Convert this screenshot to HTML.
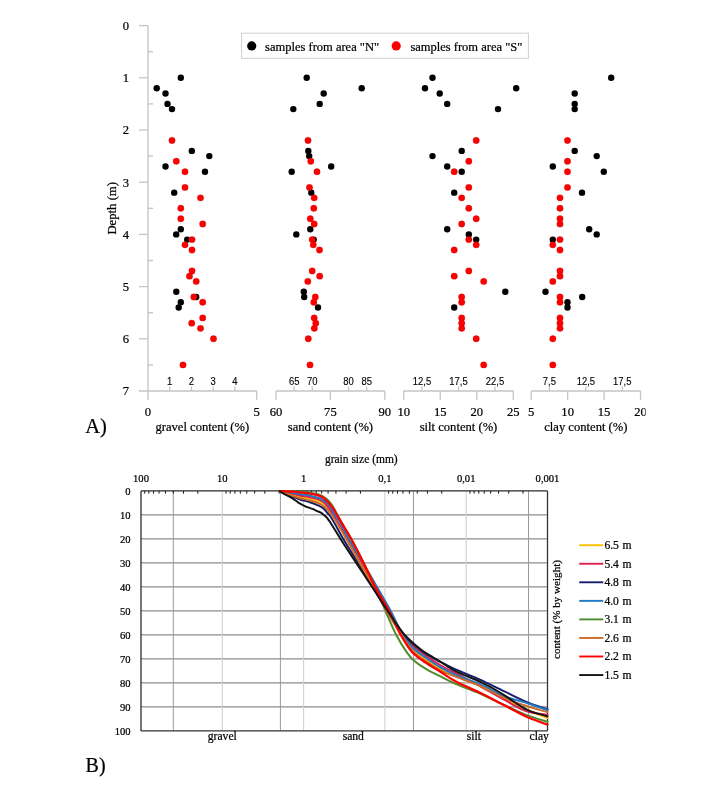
<!DOCTYPE html>
<html><head><meta charset="utf-8"><title>Figure</title>
<style>html,body{margin:0;padding:0;background:#fff;}svg{display:block;}.sf{font-family:"Liberation Serif","Times New Roman",serif;fill:#000;stroke:#000;stroke-width:0.22px;}.sa{font-family:"Liberation Sans",Arial,sans-serif;fill:#000;stroke:#000;stroke-width:0.12px;}</style></head>
<body><svg width="720" height="787" viewBox="0 0 720 787">
<rect width="720" height="787" fill="#fff"/>
<defs><clipPath id="clipA"><rect x="0" y="0" width="645.6" height="787"/></clipPath></defs>
<line x1="148" y1="25.60" x2="148" y2="400" stroke="#c4c4c4" stroke-width="1.3"/>
<line x1="139" y1="25.60" x2="148" y2="25.60" stroke="#c4c4c4" stroke-width="1.3"/>
<text x="126" y="29.90" class="sf" font-size="12.6" text-anchor="middle">0</text>
<line x1="139" y1="77.80" x2="148" y2="77.80" stroke="#c4c4c4" stroke-width="1.3"/>
<text x="126" y="82.10" class="sf" font-size="12.6" text-anchor="middle">1</text>
<line x1="139" y1="130.00" x2="148" y2="130.00" stroke="#c4c4c4" stroke-width="1.3"/>
<text x="126" y="134.30" class="sf" font-size="12.6" text-anchor="middle">2</text>
<line x1="139" y1="182.20" x2="148" y2="182.20" stroke="#c4c4c4" stroke-width="1.3"/>
<text x="126" y="186.50" class="sf" font-size="12.6" text-anchor="middle">3</text>
<line x1="139" y1="234.40" x2="148" y2="234.40" stroke="#c4c4c4" stroke-width="1.3"/>
<text x="126" y="238.70" class="sf" font-size="12.6" text-anchor="middle">4</text>
<line x1="139" y1="286.60" x2="148" y2="286.60" stroke="#c4c4c4" stroke-width="1.3"/>
<text x="126" y="290.90" class="sf" font-size="12.6" text-anchor="middle">5</text>
<line x1="139" y1="338.80" x2="148" y2="338.80" stroke="#c4c4c4" stroke-width="1.3"/>
<text x="126" y="343.10" class="sf" font-size="12.6" text-anchor="middle">6</text>
<text x="126" y="395.30" class="sf" font-size="12.6" text-anchor="middle">7</text>
<line x1="148" y1="51.70" x2="153" y2="51.70" stroke="#c4c4c4" stroke-width="1.3"/>
<line x1="148" y1="103.90" x2="153" y2="103.90" stroke="#c4c4c4" stroke-width="1.3"/>
<line x1="148" y1="156.10" x2="153" y2="156.10" stroke="#c4c4c4" stroke-width="1.3"/>
<line x1="148" y1="208.30" x2="153" y2="208.30" stroke="#c4c4c4" stroke-width="1.3"/>
<line x1="148" y1="260.50" x2="153" y2="260.50" stroke="#c4c4c4" stroke-width="1.3"/>
<line x1="148" y1="312.70" x2="153" y2="312.70" stroke="#c4c4c4" stroke-width="1.3"/>
<line x1="148" y1="364.90" x2="153" y2="364.90" stroke="#c4c4c4" stroke-width="1.3"/>
<text transform="translate(116,208.3) rotate(-90)" class="sf" font-size="12.7" text-anchor="middle">Depth (m)</text>
<line x1="139" y1="391.0" x2="256.7" y2="391.0" stroke="#c4c4c4" stroke-width="1.3"/>
<text x="148.00" y="416.2" class="sf" font-size="12.6" text-anchor="middle">0</text>
<line x1="256.70" y1="391.0" x2="256.70" y2="399.8" stroke="#c4c4c4" stroke-width="1.3"/>
<text x="256.70" y="416.2" class="sf" font-size="12.6" text-anchor="middle">5</text>
<line x1="169.74" y1="386.6" x2="169.74" y2="391.0" stroke="#c4c4c4" stroke-width="1.3"/>
<text transform="translate(169.74,384.6) scale(0.92,1)" class="sa" font-size="10.3" text-anchor="middle">1</text>
<line x1="191.48" y1="386.6" x2="191.48" y2="391.0" stroke="#c4c4c4" stroke-width="1.3"/>
<text transform="translate(191.48,384.6) scale(0.92,1)" class="sa" font-size="10.3" text-anchor="middle">2</text>
<line x1="213.22" y1="386.6" x2="213.22" y2="391.0" stroke="#c4c4c4" stroke-width="1.3"/>
<text transform="translate(213.22,384.6) scale(0.92,1)" class="sa" font-size="10.3" text-anchor="middle">3</text>
<line x1="234.96" y1="386.6" x2="234.96" y2="391.0" stroke="#c4c4c4" stroke-width="1.3"/>
<text transform="translate(234.96,384.6) scale(0.92,1)" class="sa" font-size="10.3" text-anchor="middle">4</text>
<text x="202.35" y="430.8" class="sf" font-size="12.6" text-anchor="middle">gravel content (%)</text>
<line x1="276.0" y1="391.0" x2="384.8" y2="391.0" stroke="#c4c4c4" stroke-width="1.3"/>
<line x1="276.00" y1="391.0" x2="276.00" y2="399.8" stroke="#c4c4c4" stroke-width="1.3"/>
<text x="276.00" y="416.2" class="sf" font-size="12.6" text-anchor="middle">60</text>
<line x1="330.40" y1="391.0" x2="330.40" y2="399.8" stroke="#c4c4c4" stroke-width="1.3"/>
<text x="330.40" y="416.2" class="sf" font-size="12.6" text-anchor="middle">75</text>
<line x1="384.80" y1="391.0" x2="384.80" y2="399.8" stroke="#c4c4c4" stroke-width="1.3"/>
<text x="384.80" y="416.2" class="sf" font-size="12.6" text-anchor="middle">90</text>
<line x1="294.13" y1="386.6" x2="294.13" y2="391.0" stroke="#c4c4c4" stroke-width="1.3"/>
<text transform="translate(294.13,384.6) scale(0.92,1)" class="sa" font-size="10.3" text-anchor="middle">65</text>
<line x1="312.27" y1="386.6" x2="312.27" y2="391.0" stroke="#c4c4c4" stroke-width="1.3"/>
<text transform="translate(312.27,384.6) scale(0.92,1)" class="sa" font-size="10.3" text-anchor="middle">70</text>
<line x1="348.53" y1="386.6" x2="348.53" y2="391.0" stroke="#c4c4c4" stroke-width="1.3"/>
<text transform="translate(348.53,384.6) scale(0.92,1)" class="sa" font-size="10.3" text-anchor="middle">80</text>
<line x1="366.67" y1="386.6" x2="366.67" y2="391.0" stroke="#c4c4c4" stroke-width="1.3"/>
<text transform="translate(366.67,384.6) scale(0.92,1)" class="sa" font-size="10.3" text-anchor="middle">85</text>
<text x="330.40" y="430.8" class="sf" font-size="12.6" text-anchor="middle">sand content (%)</text>
<line x1="403.7" y1="391.0" x2="513.3" y2="391.0" stroke="#c4c4c4" stroke-width="1.3"/>
<line x1="403.70" y1="391.0" x2="403.70" y2="399.8" stroke="#c4c4c4" stroke-width="1.3"/>
<text x="403.70" y="416.2" class="sf" font-size="12.6" text-anchor="middle">10</text>
<line x1="440.23" y1="391.0" x2="440.23" y2="399.8" stroke="#c4c4c4" stroke-width="1.3"/>
<text x="440.23" y="416.2" class="sf" font-size="12.6" text-anchor="middle">15</text>
<line x1="476.77" y1="391.0" x2="476.77" y2="399.8" stroke="#c4c4c4" stroke-width="1.3"/>
<text x="476.77" y="416.2" class="sf" font-size="12.6" text-anchor="middle">20</text>
<line x1="513.30" y1="391.0" x2="513.30" y2="399.8" stroke="#c4c4c4" stroke-width="1.3"/>
<text x="513.30" y="416.2" class="sf" font-size="12.6" text-anchor="middle">25</text>
<line x1="421.97" y1="386.6" x2="421.97" y2="391.0" stroke="#c4c4c4" stroke-width="1.3"/>
<text transform="translate(421.97,384.6) scale(0.92,1)" class="sa" font-size="10.3" text-anchor="middle">12,5</text>
<line x1="458.50" y1="386.6" x2="458.50" y2="391.0" stroke="#c4c4c4" stroke-width="1.3"/>
<text transform="translate(458.50,384.6) scale(0.92,1)" class="sa" font-size="10.3" text-anchor="middle">17,5</text>
<line x1="495.03" y1="386.6" x2="495.03" y2="391.0" stroke="#c4c4c4" stroke-width="1.3"/>
<text transform="translate(495.03,384.6) scale(0.92,1)" class="sa" font-size="10.3" text-anchor="middle">22,5</text>
<text x="458.50" y="430.8" class="sf" font-size="12.6" text-anchor="middle">silt content (%)</text>
<line x1="531.2" y1="391.0" x2="640.5" y2="391.0" stroke="#c4c4c4" stroke-width="1.3"/>
<line x1="531.20" y1="391.0" x2="531.20" y2="399.8" stroke="#c4c4c4" stroke-width="1.3"/>
<text x="531.20" y="416.2" class="sf" font-size="12.6" text-anchor="middle">5</text>
<line x1="567.63" y1="391.0" x2="567.63" y2="399.8" stroke="#c4c4c4" stroke-width="1.3"/>
<text x="567.63" y="416.2" class="sf" font-size="12.6" text-anchor="middle">10</text>
<line x1="604.07" y1="391.0" x2="604.07" y2="399.8" stroke="#c4c4c4" stroke-width="1.3"/>
<text x="604.07" y="416.2" class="sf" font-size="12.6" text-anchor="middle">15</text>
<line x1="640.50" y1="391.0" x2="640.50" y2="399.8" stroke="#c4c4c4" stroke-width="1.3"/>
<text x="640.50" y="416.2" class="sf" font-size="12.6" text-anchor="middle" clip-path="url(#clipA)">20</text>
<line x1="549.42" y1="386.6" x2="549.42" y2="391.0" stroke="#c4c4c4" stroke-width="1.3"/>
<text transform="translate(549.42,384.6) scale(0.92,1)" class="sa" font-size="10.3" text-anchor="middle">7,5</text>
<line x1="585.85" y1="386.6" x2="585.85" y2="391.0" stroke="#c4c4c4" stroke-width="1.3"/>
<text transform="translate(585.85,384.6) scale(0.92,1)" class="sa" font-size="10.3" text-anchor="middle">12,5</text>
<line x1="622.28" y1="386.6" x2="622.28" y2="391.0" stroke="#c4c4c4" stroke-width="1.3"/>
<text transform="translate(622.28,384.6) scale(0.92,1)" class="sa" font-size="10.3" text-anchor="middle">17,5</text>
<text x="585.85" y="430.8" class="sf" font-size="12.6" text-anchor="middle">clay content (%)</text>
<text x="85.3" y="433.2" class="sf" font-size="20.5" fill="#141428">A)</text>
<rect x="241.6" y="33.2" width="286.8" height="25.1" fill="#fff" stroke="#cfcfcf" stroke-width="1"/>
<circle cx="251.7" cy="45.9" r="4.6" fill="#000"/>
<text x="265.1" y="50.7" class="sf" font-size="12.5">samples from area "N"</text>
<circle cx="396.2" cy="45.9" r="4.6" fill="#f00"/>
<text x="410.4" y="50.7" class="sf" font-size="12.5">samples from area "S"</text>
<circle cx="180.8" cy="77.80" r="3.2" fill="#000"/>
<circle cx="156.7" cy="88.24" r="3.2" fill="#000"/>
<circle cx="165.5" cy="93.46" r="3.2" fill="#000"/>
<circle cx="167.5" cy="103.90" r="3.2" fill="#000"/>
<circle cx="172" cy="109.12" r="3.2" fill="#000"/>
<circle cx="191.8" cy="150.88" r="3.2" fill="#000"/>
<circle cx="209.3" cy="156.10" r="3.2" fill="#000"/>
<circle cx="165.5" cy="166.54" r="3.2" fill="#000"/>
<circle cx="205" cy="171.76" r="3.2" fill="#000"/>
<circle cx="174.2" cy="192.64" r="3.2" fill="#000"/>
<circle cx="180.8" cy="229.18" r="3.2" fill="#000"/>
<circle cx="176.2" cy="234.40" r="3.2" fill="#000"/>
<circle cx="187.2" cy="239.62" r="3.2" fill="#000"/>
<circle cx="176.3" cy="291.82" r="3.2" fill="#000"/>
<circle cx="196.2" cy="297.04" r="3.2" fill="#000"/>
<circle cx="180.8" cy="302.26" r="3.2" fill="#000"/>
<circle cx="178.7" cy="307.48" r="3.2" fill="#000"/>
<circle cx="306.7" cy="77.80" r="3.2" fill="#000"/>
<circle cx="361.7" cy="88.24" r="3.2" fill="#000"/>
<circle cx="323.7" cy="93.46" r="3.2" fill="#000"/>
<circle cx="319.7" cy="103.90" r="3.2" fill="#000"/>
<circle cx="293.3" cy="109.12" r="3.2" fill="#000"/>
<circle cx="308.3" cy="150.88" r="3.2" fill="#000"/>
<circle cx="309.2" cy="156.10" r="3.2" fill="#000"/>
<circle cx="331.2" cy="166.54" r="3.2" fill="#000"/>
<circle cx="291.7" cy="171.76" r="3.2" fill="#000"/>
<circle cx="311.3" cy="192.64" r="3.2" fill="#000"/>
<circle cx="310.3" cy="229.18" r="3.2" fill="#000"/>
<circle cx="296.3" cy="234.40" r="3.2" fill="#000"/>
<circle cx="313.7" cy="239.62" r="3.2" fill="#000"/>
<circle cx="303.8" cy="291.82" r="3.2" fill="#000"/>
<circle cx="304.2" cy="297.04" r="3.2" fill="#000"/>
<circle cx="318" cy="307.48" r="3.2" fill="#000"/>
<circle cx="432.5" cy="77.80" r="3.2" fill="#000"/>
<circle cx="425" cy="88.24" r="3.2" fill="#000"/>
<circle cx="516.2" cy="88.24" r="3.2" fill="#000"/>
<circle cx="439.7" cy="93.46" r="3.2" fill="#000"/>
<circle cx="447.2" cy="103.90" r="3.2" fill="#000"/>
<circle cx="498" cy="109.12" r="3.2" fill="#000"/>
<circle cx="461.7" cy="150.88" r="3.2" fill="#000"/>
<circle cx="432.5" cy="156.10" r="3.2" fill="#000"/>
<circle cx="447.2" cy="166.54" r="3.2" fill="#000"/>
<circle cx="461.7" cy="171.76" r="3.2" fill="#000"/>
<circle cx="454.2" cy="192.64" r="3.2" fill="#000"/>
<circle cx="447.2" cy="229.18" r="3.2" fill="#000"/>
<circle cx="468.8" cy="234.40" r="3.2" fill="#000"/>
<circle cx="476.2" cy="239.62" r="3.2" fill="#000"/>
<circle cx="505.3" cy="291.82" r="3.2" fill="#000"/>
<circle cx="454.2" cy="307.48" r="3.2" fill="#000"/>
<circle cx="611.2" cy="77.80" r="3.2" fill="#000"/>
<circle cx="574.7" cy="93.46" r="3.2" fill="#000"/>
<circle cx="574.7" cy="103.90" r="3.2" fill="#000"/>
<circle cx="574.7" cy="109.12" r="3.2" fill="#000"/>
<circle cx="574.7" cy="150.88" r="3.2" fill="#000"/>
<circle cx="596.7" cy="156.10" r="3.2" fill="#000"/>
<circle cx="552.8" cy="166.54" r="3.2" fill="#000"/>
<circle cx="603.8" cy="171.76" r="3.2" fill="#000"/>
<circle cx="582" cy="192.64" r="3.2" fill="#000"/>
<circle cx="589.2" cy="229.18" r="3.2" fill="#000"/>
<circle cx="596.7" cy="234.40" r="3.2" fill="#000"/>
<circle cx="552.8" cy="239.62" r="3.2" fill="#000"/>
<circle cx="545.5" cy="291.82" r="3.2" fill="#000"/>
<circle cx="582.2" cy="297.04" r="3.2" fill="#000"/>
<circle cx="567.5" cy="302.26" r="3.2" fill="#000"/>
<circle cx="567.5" cy="307.48" r="3.2" fill="#000"/>
<circle cx="172" cy="140.44" r="3.2" fill="#f00" stroke="#b00" stroke-width="0.3"/>
<circle cx="176.3" cy="161.32" r="3.2" fill="#f00" stroke="#b00" stroke-width="0.3"/>
<circle cx="185" cy="171.76" r="3.2" fill="#f00" stroke="#b00" stroke-width="0.3"/>
<circle cx="185" cy="187.42" r="3.2" fill="#f00" stroke="#b00" stroke-width="0.3"/>
<circle cx="200.5" cy="197.86" r="3.2" fill="#f00" stroke="#b00" stroke-width="0.3"/>
<circle cx="180.8" cy="208.30" r="3.2" fill="#f00" stroke="#b00" stroke-width="0.3"/>
<circle cx="180.8" cy="218.74" r="3.2" fill="#f00" stroke="#b00" stroke-width="0.3"/>
<circle cx="202.7" cy="223.96" r="3.2" fill="#f00" stroke="#b00" stroke-width="0.3"/>
<circle cx="192" cy="239.62" r="3.2" fill="#f00" stroke="#b00" stroke-width="0.3"/>
<circle cx="185" cy="244.84" r="3.2" fill="#f00" stroke="#b00" stroke-width="0.3"/>
<circle cx="192" cy="250.06" r="3.2" fill="#f00" stroke="#b00" stroke-width="0.3"/>
<circle cx="192" cy="270.94" r="3.2" fill="#f00" stroke="#b00" stroke-width="0.3"/>
<circle cx="189.5" cy="276.16" r="3.2" fill="#f00" stroke="#b00" stroke-width="0.3"/>
<circle cx="196.2" cy="281.38" r="3.2" fill="#f00" stroke="#b00" stroke-width="0.3"/>
<circle cx="193.8" cy="297.04" r="3.2" fill="#f00" stroke="#b00" stroke-width="0.3"/>
<circle cx="202.7" cy="302.26" r="3.2" fill="#f00" stroke="#b00" stroke-width="0.3"/>
<circle cx="202.7" cy="317.92" r="3.2" fill="#f00" stroke="#b00" stroke-width="0.3"/>
<circle cx="191.7" cy="323.14" r="3.2" fill="#f00" stroke="#b00" stroke-width="0.3"/>
<circle cx="200.5" cy="328.36" r="3.2" fill="#f00" stroke="#b00" stroke-width="0.3"/>
<circle cx="213.5" cy="338.80" r="3.2" fill="#f00" stroke="#b00" stroke-width="0.3"/>
<circle cx="183" cy="364.90" r="3.2" fill="#f00" stroke="#b00" stroke-width="0.3"/>
<circle cx="308" cy="140.44" r="3.2" fill="#f00" stroke="#b00" stroke-width="0.3"/>
<circle cx="310.8" cy="161.32" r="3.2" fill="#f00" stroke="#b00" stroke-width="0.3"/>
<circle cx="317" cy="171.76" r="3.2" fill="#f00" stroke="#b00" stroke-width="0.3"/>
<circle cx="309.5" cy="187.42" r="3.2" fill="#f00" stroke="#b00" stroke-width="0.3"/>
<circle cx="314.2" cy="197.86" r="3.2" fill="#f00" stroke="#b00" stroke-width="0.3"/>
<circle cx="313.8" cy="208.30" r="3.2" fill="#f00" stroke="#b00" stroke-width="0.3"/>
<circle cx="310.3" cy="218.74" r="3.2" fill="#f00" stroke="#b00" stroke-width="0.3"/>
<circle cx="314.2" cy="223.96" r="3.2" fill="#f00" stroke="#b00" stroke-width="0.3"/>
<circle cx="312.2" cy="239.62" r="3.2" fill="#f00" stroke="#b00" stroke-width="0.3"/>
<circle cx="313.3" cy="244.84" r="3.2" fill="#f00" stroke="#b00" stroke-width="0.3"/>
<circle cx="319.5" cy="250.06" r="3.2" fill="#f00" stroke="#b00" stroke-width="0.3"/>
<circle cx="312.2" cy="270.94" r="3.2" fill="#f00" stroke="#b00" stroke-width="0.3"/>
<circle cx="319.7" cy="276.16" r="3.2" fill="#f00" stroke="#b00" stroke-width="0.3"/>
<circle cx="307.8" cy="281.38" r="3.2" fill="#f00" stroke="#b00" stroke-width="0.3"/>
<circle cx="315.3" cy="297.04" r="3.2" fill="#f00" stroke="#b00" stroke-width="0.3"/>
<circle cx="313.8" cy="302.26" r="3.2" fill="#f00" stroke="#b00" stroke-width="0.3"/>
<circle cx="314.2" cy="317.92" r="3.2" fill="#f00" stroke="#b00" stroke-width="0.3"/>
<circle cx="315.8" cy="323.14" r="3.2" fill="#f00" stroke="#b00" stroke-width="0.3"/>
<circle cx="314.3" cy="328.36" r="3.2" fill="#f00" stroke="#b00" stroke-width="0.3"/>
<circle cx="308.3" cy="338.80" r="3.2" fill="#f00" stroke="#b00" stroke-width="0.3"/>
<circle cx="310" cy="364.90" r="3.2" fill="#f00" stroke="#b00" stroke-width="0.3"/>
<circle cx="476.2" cy="140.44" r="3.2" fill="#f00" stroke="#b00" stroke-width="0.3"/>
<circle cx="468.8" cy="161.32" r="3.2" fill="#f00" stroke="#b00" stroke-width="0.3"/>
<circle cx="454.2" cy="171.76" r="3.2" fill="#f00" stroke="#b00" stroke-width="0.3"/>
<circle cx="468.8" cy="187.42" r="3.2" fill="#f00" stroke="#b00" stroke-width="0.3"/>
<circle cx="461.7" cy="197.86" r="3.2" fill="#f00" stroke="#b00" stroke-width="0.3"/>
<circle cx="468.8" cy="208.30" r="3.2" fill="#f00" stroke="#b00" stroke-width="0.3"/>
<circle cx="476.2" cy="218.74" r="3.2" fill="#f00" stroke="#b00" stroke-width="0.3"/>
<circle cx="461.7" cy="223.96" r="3.2" fill="#f00" stroke="#b00" stroke-width="0.3"/>
<circle cx="468.8" cy="239.62" r="3.2" fill="#f00" stroke="#b00" stroke-width="0.3"/>
<circle cx="476.2" cy="244.84" r="3.2" fill="#f00" stroke="#b00" stroke-width="0.3"/>
<circle cx="454.2" cy="250.06" r="3.2" fill="#f00" stroke="#b00" stroke-width="0.3"/>
<circle cx="468.8" cy="270.94" r="3.2" fill="#f00" stroke="#b00" stroke-width="0.3"/>
<circle cx="454.2" cy="276.16" r="3.2" fill="#f00" stroke="#b00" stroke-width="0.3"/>
<circle cx="483.7" cy="281.38" r="3.2" fill="#f00" stroke="#b00" stroke-width="0.3"/>
<circle cx="461.7" cy="297.04" r="3.2" fill="#f00" stroke="#b00" stroke-width="0.3"/>
<circle cx="461.7" cy="302.26" r="3.2" fill="#f00" stroke="#b00" stroke-width="0.3"/>
<circle cx="461.7" cy="317.92" r="3.2" fill="#f00" stroke="#b00" stroke-width="0.3"/>
<circle cx="461.7" cy="323.14" r="3.2" fill="#f00" stroke="#b00" stroke-width="0.3"/>
<circle cx="461.7" cy="328.36" r="3.2" fill="#f00" stroke="#b00" stroke-width="0.3"/>
<circle cx="476.2" cy="338.80" r="3.2" fill="#f00" stroke="#b00" stroke-width="0.3"/>
<circle cx="483.7" cy="364.90" r="3.2" fill="#f00" stroke="#b00" stroke-width="0.3"/>
<circle cx="567.5" cy="140.44" r="3.2" fill="#f00" stroke="#b00" stroke-width="0.3"/>
<circle cx="567.5" cy="161.32" r="3.2" fill="#f00" stroke="#b00" stroke-width="0.3"/>
<circle cx="567.5" cy="171.76" r="3.2" fill="#f00" stroke="#b00" stroke-width="0.3"/>
<circle cx="567.5" cy="187.42" r="3.2" fill="#f00" stroke="#b00" stroke-width="0.3"/>
<circle cx="560" cy="197.86" r="3.2" fill="#f00" stroke="#b00" stroke-width="0.3"/>
<circle cx="560" cy="208.30" r="3.2" fill="#f00" stroke="#b00" stroke-width="0.3"/>
<circle cx="560" cy="218.74" r="3.2" fill="#f00" stroke="#b00" stroke-width="0.3"/>
<circle cx="560" cy="223.96" r="3.2" fill="#f00" stroke="#b00" stroke-width="0.3"/>
<circle cx="560" cy="239.62" r="3.2" fill="#f00" stroke="#b00" stroke-width="0.3"/>
<circle cx="552.8" cy="244.84" r="3.2" fill="#f00" stroke="#b00" stroke-width="0.3"/>
<circle cx="560" cy="250.06" r="3.2" fill="#f00" stroke="#b00" stroke-width="0.3"/>
<circle cx="560" cy="270.94" r="3.2" fill="#f00" stroke="#b00" stroke-width="0.3"/>
<circle cx="560" cy="276.16" r="3.2" fill="#f00" stroke="#b00" stroke-width="0.3"/>
<circle cx="552.8" cy="281.38" r="3.2" fill="#f00" stroke="#b00" stroke-width="0.3"/>
<circle cx="560" cy="297.04" r="3.2" fill="#f00" stroke="#b00" stroke-width="0.3"/>
<circle cx="560" cy="302.26" r="3.2" fill="#f00" stroke="#b00" stroke-width="0.3"/>
<circle cx="560" cy="317.92" r="3.2" fill="#f00" stroke="#b00" stroke-width="0.3"/>
<circle cx="560" cy="323.14" r="3.2" fill="#f00" stroke="#b00" stroke-width="0.3"/>
<circle cx="560" cy="328.36" r="3.2" fill="#f00" stroke="#b00" stroke-width="0.3"/>
<circle cx="552.8" cy="338.80" r="3.2" fill="#f00" stroke="#b00" stroke-width="0.3"/>
<circle cx="552.8" cy="364.90" r="3.2" fill="#f00" stroke="#b00" stroke-width="0.3"/>
<line x1="141.0" y1="514.90" x2="547.5" y2="514.90" stroke="#8c8c8c" stroke-width="1.3"/>
<line x1="141.0" y1="538.90" x2="547.5" y2="538.90" stroke="#8c8c8c" stroke-width="1.3"/>
<line x1="141.0" y1="562.90" x2="547.5" y2="562.90" stroke="#8c8c8c" stroke-width="1.3"/>
<line x1="141.0" y1="586.90" x2="547.5" y2="586.90" stroke="#8c8c8c" stroke-width="1.3"/>
<line x1="141.0" y1="610.90" x2="547.5" y2="610.90" stroke="#8c8c8c" stroke-width="1.3"/>
<line x1="141.0" y1="634.90" x2="547.5" y2="634.90" stroke="#8c8c8c" stroke-width="1.3"/>
<line x1="141.0" y1="658.90" x2="547.5" y2="658.90" stroke="#8c8c8c" stroke-width="1.3"/>
<line x1="141.0" y1="682.90" x2="547.5" y2="682.90" stroke="#8c8c8c" stroke-width="1.3"/>
<line x1="141.0" y1="706.90" x2="547.5" y2="706.90" stroke="#8c8c8c" stroke-width="1.3"/>
<line x1="222.30" y1="490.9" x2="222.30" y2="730.9" stroke="#d2d2d2" stroke-width="1.1"/>
<line x1="303.60" y1="490.9" x2="303.60" y2="730.9" stroke="#d2d2d2" stroke-width="1.1"/>
<line x1="384.90" y1="490.9" x2="384.90" y2="730.9" stroke="#d2d2d2" stroke-width="1.1"/>
<line x1="466.20" y1="490.9" x2="466.20" y2="730.9" stroke="#d2d2d2" stroke-width="1.1"/>
<line x1="173.3" y1="490.9" x2="173.3" y2="730.9" stroke="#9a9a9a" stroke-width="1.0"/>
<line x1="280.4" y1="490.9" x2="280.4" y2="730.9" stroke="#9a9a9a" stroke-width="1.0"/>
<line x1="413.5" y1="490.9" x2="413.5" y2="730.9" stroke="#9a9a9a" stroke-width="1.0"/>
<line x1="528.5" y1="490.9" x2="528.5" y2="730.9" stroke="#9a9a9a" stroke-width="1.0"/>
<line x1="141.0" y1="490.9" x2="547.5" y2="490.9" stroke="#2a2a2a" stroke-width="1.3"/>
<line x1="141.0" y1="490.9" x2="141.0" y2="730.9" stroke="#2a2a2a" stroke-width="1.3"/>
<line x1="141.0" y1="730.9" x2="547.5" y2="730.9" stroke="#333" stroke-width="1.3"/>
<line x1="547.5" y1="490.9" x2="547.5" y2="730.9" stroke="#333" stroke-width="1.3"/>
<line x1="197.83" y1="490.9" x2="197.83" y2="493.70" stroke="#1a1a1a" stroke-width="1"/>
<line x1="183.51" y1="490.9" x2="183.51" y2="493.70" stroke="#1a1a1a" stroke-width="1"/>
<line x1="173.35" y1="490.9" x2="173.35" y2="493.70" stroke="#1a1a1a" stroke-width="1"/>
<line x1="165.47" y1="490.9" x2="165.47" y2="493.70" stroke="#1a1a1a" stroke-width="1"/>
<line x1="159.04" y1="490.9" x2="159.04" y2="493.70" stroke="#1a1a1a" stroke-width="1"/>
<line x1="153.59" y1="490.9" x2="153.59" y2="493.70" stroke="#1a1a1a" stroke-width="1"/>
<line x1="148.88" y1="490.9" x2="148.88" y2="493.70" stroke="#1a1a1a" stroke-width="1"/>
<line x1="144.72" y1="490.9" x2="144.72" y2="493.70" stroke="#1a1a1a" stroke-width="1"/>
<line x1="279.13" y1="490.9" x2="279.13" y2="493.70" stroke="#1a1a1a" stroke-width="1"/>
<line x1="264.81" y1="490.9" x2="264.81" y2="493.70" stroke="#1a1a1a" stroke-width="1"/>
<line x1="254.65" y1="490.9" x2="254.65" y2="493.70" stroke="#1a1a1a" stroke-width="1"/>
<line x1="246.77" y1="490.9" x2="246.77" y2="493.70" stroke="#1a1a1a" stroke-width="1"/>
<line x1="240.34" y1="490.9" x2="240.34" y2="493.70" stroke="#1a1a1a" stroke-width="1"/>
<line x1="234.89" y1="490.9" x2="234.89" y2="493.70" stroke="#1a1a1a" stroke-width="1"/>
<line x1="230.18" y1="490.9" x2="230.18" y2="493.70" stroke="#1a1a1a" stroke-width="1"/>
<line x1="226.02" y1="490.9" x2="226.02" y2="493.70" stroke="#1a1a1a" stroke-width="1"/>
<line x1="360.43" y1="490.9" x2="360.43" y2="493.70" stroke="#1a1a1a" stroke-width="1"/>
<line x1="346.11" y1="490.9" x2="346.11" y2="493.70" stroke="#1a1a1a" stroke-width="1"/>
<line x1="335.95" y1="490.9" x2="335.95" y2="493.70" stroke="#1a1a1a" stroke-width="1"/>
<line x1="328.07" y1="490.9" x2="328.07" y2="493.70" stroke="#1a1a1a" stroke-width="1"/>
<line x1="321.64" y1="490.9" x2="321.64" y2="493.70" stroke="#1a1a1a" stroke-width="1"/>
<line x1="316.19" y1="490.9" x2="316.19" y2="493.70" stroke="#1a1a1a" stroke-width="1"/>
<line x1="311.48" y1="490.9" x2="311.48" y2="493.70" stroke="#1a1a1a" stroke-width="1"/>
<line x1="307.32" y1="490.9" x2="307.32" y2="493.70" stroke="#1a1a1a" stroke-width="1"/>
<line x1="441.73" y1="490.9" x2="441.73" y2="493.70" stroke="#1a1a1a" stroke-width="1"/>
<line x1="427.41" y1="490.9" x2="427.41" y2="493.70" stroke="#1a1a1a" stroke-width="1"/>
<line x1="417.25" y1="490.9" x2="417.25" y2="493.70" stroke="#1a1a1a" stroke-width="1"/>
<line x1="409.37" y1="490.9" x2="409.37" y2="493.70" stroke="#1a1a1a" stroke-width="1"/>
<line x1="402.94" y1="490.9" x2="402.94" y2="493.70" stroke="#1a1a1a" stroke-width="1"/>
<line x1="397.49" y1="490.9" x2="397.49" y2="493.70" stroke="#1a1a1a" stroke-width="1"/>
<line x1="392.78" y1="490.9" x2="392.78" y2="493.70" stroke="#1a1a1a" stroke-width="1"/>
<line x1="388.62" y1="490.9" x2="388.62" y2="493.70" stroke="#1a1a1a" stroke-width="1"/>
<line x1="523.03" y1="490.9" x2="523.03" y2="493.70" stroke="#1a1a1a" stroke-width="1"/>
<line x1="508.71" y1="490.9" x2="508.71" y2="493.70" stroke="#1a1a1a" stroke-width="1"/>
<line x1="498.55" y1="490.9" x2="498.55" y2="493.70" stroke="#1a1a1a" stroke-width="1"/>
<line x1="490.67" y1="490.9" x2="490.67" y2="493.70" stroke="#1a1a1a" stroke-width="1"/>
<line x1="484.24" y1="490.9" x2="484.24" y2="493.70" stroke="#1a1a1a" stroke-width="1"/>
<line x1="478.79" y1="490.9" x2="478.79" y2="493.70" stroke="#1a1a1a" stroke-width="1"/>
<line x1="474.08" y1="490.9" x2="474.08" y2="493.70" stroke="#1a1a1a" stroke-width="1"/>
<line x1="469.92" y1="490.9" x2="469.92" y2="493.70" stroke="#1a1a1a" stroke-width="1"/>
<path d="M279.80,491.20 C281.53,491.60 283.27,491.96 285.00,492.40 C290.00,493.67 295.00,495.63 300.00,496.80 C303.33,497.58 306.67,498.07 310.00,498.80 C312.67,499.38 315.33,499.82 318.00,500.70 C319.67,501.25 321.33,502.10 323.00,503.20 C324.50,504.19 326.00,505.74 327.50,507.50 C329.17,509.46 330.83,512.59 332.50,515.20 C337.33,522.78 342.17,530.42 347.00,538.50 C351.67,546.31 356.33,554.69 361.00,562.90 C365.50,570.82 370.00,578.73 374.50,586.90 C378.83,594.77 383.17,603.41 387.50,611.00 C392.33,619.46 397.17,627.94 402.00,635.00 C405.77,640.50 409.53,646.21 413.30,649.90 C417.20,653.72 421.10,656.23 425.00,659.00 C430.00,662.55 435.00,666.09 440.00,668.75 C445.00,671.41 450.00,673.37 455.00,675.50 C463.33,679.05 471.67,681.67 480.00,685.50 C488.33,689.33 496.67,694.77 505.00,699.00 C513.00,703.06 521.00,707.00 529.00,710.50 C535.17,713.20 541.33,715.50 547.50,718.00" fill="none" stroke="#ffc000" stroke-width="2.0" stroke-linejoin="round" stroke-linecap="round"/>
<path d="M279.80,491.20 C281.53,491.43 283.27,491.61 285.00,491.90 C290.00,492.72 295.00,494.52 300.00,495.50 C303.33,496.16 306.67,496.54 310.00,497.20 C312.67,497.73 315.33,498.19 318.00,499.10 C319.67,499.67 321.33,500.65 323.00,501.80 C324.33,502.72 325.67,504.03 327.00,505.50 C328.00,506.60 329.00,508.00 330.00,509.50 C331.17,511.24 332.33,513.55 333.50,515.50 C338.23,523.43 342.97,530.69 347.70,538.50 C352.53,546.48 357.37,554.63 362.20,562.90 C366.80,570.77 371.40,578.64 376.00,586.90 C380.33,594.68 384.67,603.41 389.00,611.00 C393.83,619.46 398.67,628.58 403.50,635.00 C406.77,639.34 410.03,643.09 413.30,646.10 C417.20,649.69 421.10,652.32 425.00,655.10 C430.00,658.66 435.00,662.05 440.00,665.00 C445.00,667.95 450.00,670.36 455.00,673.00 C463.33,677.39 471.67,681.49 480.00,686.00 C488.33,690.51 496.67,695.70 505.00,700.10 C513.00,704.32 521.00,710.19 529.00,712.00 C535.17,713.40 541.33,713.87 547.50,714.80" fill="none" stroke="#dc1e50" stroke-width="2.0" stroke-linejoin="round" stroke-linecap="round"/>
<path d="M279.80,491.20 C281.53,492.07 283.27,493.07 285.00,493.80 C287.77,494.96 290.53,495.69 293.30,496.75 C295.53,497.60 297.77,498.76 300.00,499.50 C303.33,500.60 306.67,501.12 310.00,502.20 C312.67,503.07 315.33,504.20 318.00,505.40 C319.33,506.00 320.67,506.54 322.00,507.40 C323.00,508.04 324.00,508.99 325.00,510.00 C325.83,510.84 326.67,512.04 327.50,513.00 C328.10,513.69 328.70,514.23 329.30,515.00 C333.87,520.84 338.43,530.87 343.00,538.50 C348.00,546.85 353.00,554.83 358.00,562.90 C363.00,570.97 368.00,579.01 373.00,586.90 C378.17,595.05 383.33,603.03 388.50,611.00 C393.73,619.07 398.97,628.79 404.20,635.00 C407.23,638.60 410.27,641.45 413.30,644.10 C417.20,647.51 421.10,650.52 425.00,653.10 C430.00,656.40 435.00,659.03 440.00,661.70 C445.00,664.37 450.00,666.91 455.00,669.20 C463.33,673.01 471.67,675.87 480.00,679.60 C488.33,683.33 496.67,687.74 505.00,691.70 C513.00,695.50 521.00,699.71 529.00,702.90 C535.17,705.36 541.33,707.23 547.50,709.40" fill="none" stroke="#14206a" stroke-width="2.0" stroke-linejoin="round" stroke-linecap="round"/>
<path d="M279.80,491.20 C281.53,491.38 283.27,491.54 285.00,491.75 C290.00,492.36 295.00,493.31 300.00,494.10 C303.33,494.63 306.67,495.04 310.00,495.70 C312.67,496.22 315.33,496.85 318.00,497.70 C319.67,498.23 321.33,498.89 323.00,499.80 C324.50,500.62 326.00,501.81 327.50,503.30 C328.67,504.46 329.83,506.17 331.00,508.00 C332.23,509.93 333.47,513.08 334.70,515.00 C335.97,516.97 337.23,518.10 338.50,520.00 C341.83,525.00 345.17,532.65 348.50,538.50 C353.40,547.10 358.30,554.57 363.20,562.90 C367.80,570.72 372.40,578.85 377.00,586.90 C381.57,594.89 386.13,602.54 390.70,611.00 C394.80,618.59 398.90,628.67 403.00,635.00 C406.43,640.30 409.87,644.97 413.30,648.30 C417.20,652.08 421.10,654.54 425.00,657.30 C430.00,660.84 435.00,664.27 440.00,667.10 C445.00,669.93 450.00,672.42 455.00,674.60 C463.33,678.24 471.67,680.50 480.00,684.10 C488.33,687.70 496.67,693.51 505.00,696.60 C513.00,699.57 521.00,701.12 529.00,703.70 C535.17,705.69 541.33,708.03 547.50,710.20" fill="none" stroke="#1f78c8" stroke-width="2.0" stroke-linejoin="round" stroke-linecap="round"/>
<path d="M279.80,491.20 C286.53,491.40 293.27,491.48 300.00,491.80 C303.33,491.96 306.67,492.28 310.00,492.70 C312.67,493.04 315.33,493.58 318.00,494.30 C319.33,494.66 320.67,495.15 322.00,495.80 C323.33,496.45 324.67,497.51 326.00,498.60 C327.17,499.55 328.33,500.68 329.50,502.00 C330.83,503.51 332.17,505.39 333.50,507.50 C334.77,509.51 336.03,512.19 337.30,514.60 C338.23,516.37 339.17,518.28 340.10,520.00 C341.47,522.52 342.83,524.85 344.20,527.20 C346.40,530.99 348.60,534.38 350.80,538.30 C355.07,545.90 359.33,554.43 363.60,562.90 C367.50,570.64 371.40,578.32 375.30,586.90 C378.70,594.38 382.10,603.21 385.50,611.00 C389.10,619.25 392.70,628.17 396.30,635.00 C399.47,641.01 402.63,646.36 405.80,650.80 C408.30,654.31 410.80,657.71 413.30,660.00 C417.20,663.58 421.10,665.93 425.00,668.30 C430.00,671.34 435.00,673.65 440.00,676.20 C445.00,678.75 450.00,681.37 455.00,683.60 C463.33,687.31 471.67,689.99 480.00,693.60 C488.33,697.21 496.67,701.62 505.00,705.40 C513.00,709.03 521.00,712.91 529.00,715.90 C535.17,718.20 541.33,719.97 547.50,722.00" fill="none" stroke="#4e8c2c" stroke-width="2.0" stroke-linejoin="round" stroke-linecap="round"/>
<path d="M279.80,491.20 C281.53,491.80 283.27,492.40 285.00,493.00 C290.00,494.73 295.00,496.84 300.00,498.20 C303.33,499.11 306.67,499.61 310.00,500.50 C312.67,501.21 315.33,501.95 318.00,503.00 C319.33,503.53 320.67,504.19 322.00,505.00 C323.50,505.91 325.00,507.08 326.50,508.50 C328.27,510.17 330.03,512.57 331.80,515.00 C336.53,521.52 341.27,530.41 346.00,538.50 C350.60,546.37 355.20,554.80 359.80,562.90 C364.37,570.94 368.93,578.67 373.50,586.90 C377.83,594.71 382.17,603.54 386.50,611.00 C391.50,619.60 396.50,627.53 401.50,635.00 C405.43,640.87 409.37,647.66 413.30,651.60 C417.20,655.51 421.10,657.94 425.00,660.70 C430.00,664.24 435.00,667.93 440.00,670.40 C445.00,672.87 450.00,674.47 455.00,676.40 C458.67,677.81 462.33,679.10 466.00,680.50 C470.67,682.28 475.33,683.98 480.00,686.00 C488.33,689.60 496.67,694.90 505.00,698.30 C513.00,701.57 521.00,704.16 529.00,706.70 C535.17,708.66 541.33,710.30 547.50,712.10" fill="none" stroke="#d06a28" stroke-width="2.0" stroke-linejoin="round" stroke-linecap="round"/>
<path d="M279.80,491.20 C281.53,491.23 283.27,491.25 285.00,491.30 C290.00,491.44 295.00,491.85 300.00,492.30 C303.33,492.60 306.67,493.05 310.00,493.60 C312.67,494.04 315.33,494.61 318.00,495.40 C319.33,495.80 320.67,496.30 322.00,497.00 C324.10,498.10 326.20,500.08 328.30,502.20 C329.83,503.75 331.37,505.74 332.90,508.00 C334.23,509.96 335.57,512.80 336.90,515.00 C337.97,516.76 339.03,518.24 340.10,520.00 C341.47,522.25 342.83,524.85 344.20,527.20 C346.40,530.99 348.60,534.38 350.80,538.30 C355.07,545.90 359.33,554.36 363.60,562.90 C367.43,570.58 371.27,579.67 375.10,586.90 C379.80,595.76 384.50,602.17 389.20,611.00 C393.07,618.26 396.93,628.28 400.80,635.00 C404.70,641.77 408.60,648.53 412.50,652.50 C417.23,657.32 421.97,660.06 426.70,663.30 C431.13,666.34 435.57,668.83 440.00,671.60 C445.00,674.73 450.00,678.28 455.00,681.00 C463.33,685.54 471.67,688.71 480.00,692.80 C488.33,696.89 496.67,701.35 505.00,705.60 C513.00,709.68 521.00,714.38 529.00,717.80 C535.17,720.44 541.33,722.40 547.50,724.70" fill="none" stroke="#ff0000" stroke-width="2.3" stroke-linejoin="round" stroke-linecap="round"/>
<path d="M279.80,491.20 C281.53,492.23 283.27,493.31 285.00,494.30 C287.77,495.88 290.53,497.04 293.30,498.80 C294.87,499.80 296.43,501.29 298.00,502.30 C299.77,503.44 301.53,504.42 303.30,505.30 C304.87,506.08 306.43,506.80 308.00,507.40 C309.50,507.97 311.00,508.33 312.50,508.90 C314.33,509.60 316.17,510.63 318.00,511.40 C318.67,511.68 319.33,511.87 320.00,512.20 C321.50,512.95 323.00,514.27 324.50,515.50 C325.17,516.05 325.83,516.59 326.50,517.30 C328.77,519.72 331.03,523.72 333.30,527.20 C335.67,530.84 338.03,535.01 340.40,538.75 C345.67,547.08 350.93,554.90 356.20,562.90 C361.50,570.95 366.80,578.81 372.10,586.90 C377.30,594.84 382.50,603.32 387.70,611.00 C393.37,619.37 399.03,628.63 404.70,635.00 C407.57,638.22 410.43,640.76 413.30,643.30 C416.37,646.01 419.43,648.63 422.50,650.80 C426.10,653.35 429.70,655.31 433.30,657.50 C435.53,658.86 437.77,660.14 440.00,661.50 C445.00,664.55 450.00,668.30 455.00,670.90 C463.33,675.23 471.67,677.65 480.00,681.70 C488.33,685.75 496.67,690.39 505.00,695.60 C508.33,697.68 511.67,700.39 515.00,702.50 C519.67,705.45 524.33,708.66 529.00,710.60 C535.17,713.17 541.33,714.53 547.50,716.50" fill="none" stroke="#151515" stroke-width="2.0" stroke-linejoin="round" stroke-linecap="round"/>
<text x="141.00" y="481.6" class="sf" font-size="10.6" text-anchor="middle">100</text>
<text x="222.30" y="481.6" class="sf" font-size="10.6" text-anchor="middle">10</text>
<text x="303.60" y="481.6" class="sf" font-size="10.6" text-anchor="middle">1</text>
<text x="384.90" y="481.6" class="sf" font-size="10.6" text-anchor="middle">0,1</text>
<text x="466.20" y="481.6" class="sf" font-size="10.6" text-anchor="middle">0,01</text>
<text x="547.50" y="481.6" class="sf" font-size="10.6" text-anchor="middle">0,001</text>
<text x="361.3" y="462.6" class="sf" font-size="11.5" text-anchor="middle">grain size (mm)</text>
<text x="130.6" y="494.50" class="sf" font-size="10.6" text-anchor="end">0</text>
<text x="130.6" y="518.50" class="sf" font-size="10.6" text-anchor="end">10</text>
<text x="130.6" y="542.50" class="sf" font-size="10.6" text-anchor="end">20</text>
<text x="130.6" y="566.50" class="sf" font-size="10.6" text-anchor="end">30</text>
<text x="130.6" y="590.50" class="sf" font-size="10.6" text-anchor="end">40</text>
<text x="130.6" y="614.50" class="sf" font-size="10.6" text-anchor="end">50</text>
<text x="130.6" y="638.50" class="sf" font-size="10.6" text-anchor="end">60</text>
<text x="130.6" y="662.50" class="sf" font-size="10.6" text-anchor="end">70</text>
<text x="130.6" y="686.50" class="sf" font-size="10.6" text-anchor="end">80</text>
<text x="130.6" y="710.50" class="sf" font-size="10.6" text-anchor="end">90</text>
<text x="130.6" y="734.50" class="sf" font-size="10.6" text-anchor="end">100</text>
<text x="222.3" y="739.8" class="sf" font-size="11.6" text-anchor="middle">gravel</text>
<text x="353.3" y="739.8" class="sf" font-size="11.6" text-anchor="middle">sand</text>
<text x="473.9" y="739.8" class="sf" font-size="11.6" text-anchor="middle">silt</text>
<text x="539.2" y="739.8" class="sf" font-size="11.6" text-anchor="middle">clay</text>
<text transform="translate(560.3,609.5) rotate(-90)" class="sf" font-size="11.1" text-anchor="middle">content (% by weight)</text>
<line x1="579.2" y1="545.20" x2="603.3" y2="545.20" stroke="#ffc000" stroke-width="1.9"/>
<text x="604.4" y="549.10" class="sf" font-size="11.6" word-spacing="0.8">6.5 m</text>
<line x1="579.2" y1="563.75" x2="603.3" y2="563.75" stroke="#dc1e50" stroke-width="1.9"/>
<text x="604.4" y="567.65" class="sf" font-size="11.6" word-spacing="0.8">5.4 m</text>
<line x1="579.2" y1="582.30" x2="603.3" y2="582.30" stroke="#14206a" stroke-width="1.9"/>
<text x="604.4" y="586.20" class="sf" font-size="11.6" word-spacing="0.8">4.8 m</text>
<line x1="579.2" y1="600.85" x2="603.3" y2="600.85" stroke="#1f78c8" stroke-width="1.9"/>
<text x="604.4" y="604.75" class="sf" font-size="11.6" word-spacing="0.8">4.0 m</text>
<line x1="579.2" y1="619.40" x2="603.3" y2="619.40" stroke="#4e8c2c" stroke-width="1.9"/>
<text x="604.4" y="623.30" class="sf" font-size="11.6" word-spacing="0.8">3.1 m</text>
<line x1="579.2" y1="637.95" x2="603.3" y2="637.95" stroke="#d06a28" stroke-width="1.9"/>
<text x="604.4" y="641.85" class="sf" font-size="11.6" word-spacing="0.8">2.6 m</text>
<line x1="579.2" y1="656.50" x2="603.3" y2="656.50" stroke="#ff0000" stroke-width="1.9"/>
<text x="604.4" y="660.40" class="sf" font-size="11.6" word-spacing="0.8">2.2 m</text>
<line x1="579.2" y1="675.05" x2="603.3" y2="675.05" stroke="#151515" stroke-width="1.9"/>
<text x="604.4" y="678.95" class="sf" font-size="11.6" word-spacing="0.8">1.5 m</text>
<text x="85.6" y="772.0" class="sf" font-size="20" fill="#141428">B)</text>
</svg></body></html>
